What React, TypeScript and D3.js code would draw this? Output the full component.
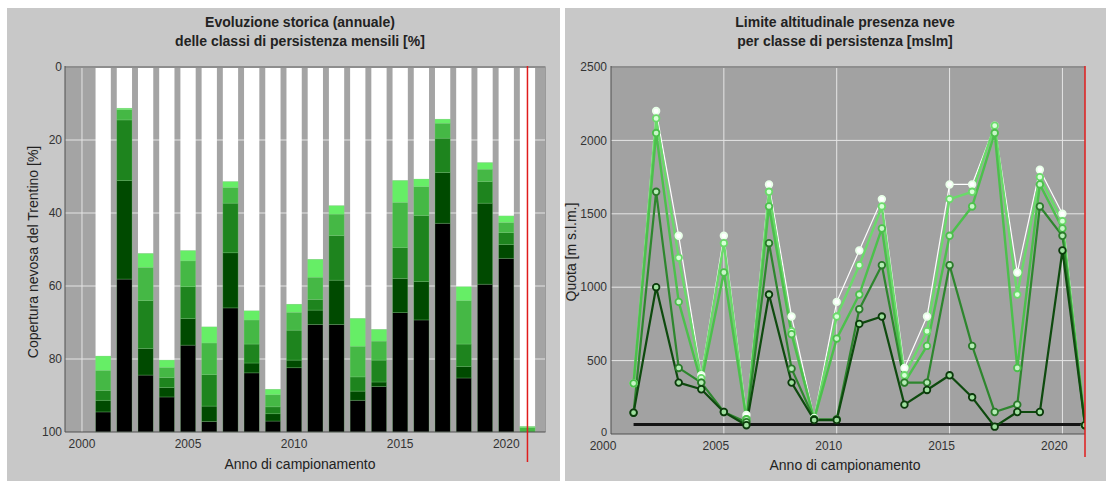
import React from 'react';
import * as d3 from 'd3';

// anni di campionamento
const anni = [2001, 2002, 2003, 2004, 2005, 2006, 2007, 2008, 2009, 2010, 2011,
  2012, 2013, 2014, 2015, 2016, 2017, 2018, 2019, 2020, 2021];

// copertura per classe di persistenza [%] (dal basso verso l'alto)
const classeNero = [5.5, 41.9, 15.6, 9.6, 23.8, 2.9, 34.0, 16.2, 3.0, 17.6, 29.5, 29.5, 8.7, 12.5, 32.7, 30.7, 57.2, 14.8, 40.5, 47.6, 0];
const classeScuro = [3.2, 27.0, 7.3, 2.6, 7.3, 4.2, 15.1, 2.7, 2.0, 2.1, 3.9, 12.1, 2.5, 1.2, 9.4, 10.5, 13.9, 3.2, 22.2, 3.8, 0];
const classeMedio = [2.7, 16.6, 13.1, 2.7, 8.7, 8.6, 13.6, 5.2, 1.9, 8.2, 2.9, 12.2, 3.9, 6.0, 8.4, 18.1, 9.4, 6.1, 5.9, 3.2, 0];
const classeChiaro = [5.5, 2.8, 9.1, 2.8, 7.1, 8.7, 4.3, 6.6, 3.3, 4.9, 6.1, 5.9, 8.4, 5.2, 12.4, 7.9, 4.1, 11.9, 3.4, 2.8, 1.2];
const classeTenue = [3.9, 0.4, 3.8, 2.0, 2.8, 4.4, 1.6, 2.5, 1.5, 2.2, 4.9, 2.3, 7.6, 3.2, 6.0, 2.1, 1.1, 3.8, 1.8, 1.8, 0.3];

// limite altitudinale per classe [m s.l.m.]
const quotaScuro = [145, 1000, 350, 305, 150, 60, 950, 350, 95, 95, 750, 800, 200, 300, 400, 250, 50, 150, 150, 1250, 60];
const quotaMedio = [145, 1650, 450, 350, 150, 80, 1300, 445, 100, 100, 850, 1150, 350, 350, 1150, 600, 150, 200, 1550, 1350, 60];
const quotaChiaro = [345, 2050, 900, 350, 1100, 100, 1550, 680, 100, 650, 950, 1400, 350, 600, 1350, 1550, 2050, 450, 1700, 1400, 60];
const quotaTenue = [345, 2150, 1200, 380, 1300, 100, 1650, 700, 100, 800, 1150, 1550, 400, 700, 1600, 1650, 2100, 950, 1750, 1450, 60];
const quotaBianco = [345, 2200, 1350, 400, 1350, 130, 1700, 800, 110, 900, 1250, 1600, 450, 800, 1700, 1700, 2100, 1100, 1800, 1500, 60];
const quotaMinimaAnni = [2001, 2021];
const quotaMinima = [65, 65];

const tickPercento = [0, 20, 40, 60, 80, 100];
const tickQuota = [0, 500, 1000, 1500, 2000, 2500];
const tickAnni = [2000, 2005, 2010, 2015, 2020];

const coloriClassi = ['#000000', '#004a00', '#1e841e', '#45b845', '#66ee66'];
const chiaviClassi = ['nero', 'scuro', 'medio', 'chiaro', 'tenue'];

const FONT = 'Arial, "Liberation Sans", sans-serif';

function GraficoBarre() {
  const x = d3.scaleLinear().domain([1999.2, 2021.85]).range([65, 545.5]);
  const y = d3.scaleLinear().domain([0, 100]).range([67, 432]);
  const bw = (x(2001) - x(2000)) * 0.72;

  const righe = anni.map((a, i) => ({
    anno: a,
    nero: classeNero[i], scuro: classeScuro[i], medio: classeMedio[i],
    chiaro: classeChiaro[i], tenue: classeTenue[i],
  }));
  const serie = d3.stack<any>().keys(chiaviClassi)(righe);

  return (
    <g>
      <rect x={65} y={67} width={480.5} height={365} fill="#a4a4a4" />
      {tickPercento.slice(1, -1).map(t => (
        <line key={t} x1={65} x2={545.5} y1={y(t)} y2={y(t)} stroke="#e4e4e4" strokeWidth={1} />
      ))}
      <line x1={x(2000)} x2={x(2000)} y1={67} y2={432} stroke="#e4e4e4" />
      {/* parte non coperta */}
      {righe.map((r, i) => {
        const top = serie[serie.length - 1][i][1];
        return <rect key={r.anno} x={x(r.anno) - bw / 2} y={y(0)} width={bw}
          height={y(100 - top) - y(0)} fill="#ffffff" />;
      })}
      {serie.map((s, k) => (
        <g key={s.key}>
          {s.map((d, i) => (
            <rect key={i} x={x(anni[i]) - bw / 2} y={y(100 - d[1])} width={bw}
              height={Math.max(0, y(100 - d[0]) - y(100 - d[1]))}
              fill={coloriClassi[k]} stroke="rgba(140,220,140,0.45)" strokeWidth={0.6} />
          ))}
        </g>
      ))}
      <line x1={65} x2={545.5} y1={67} y2={67} stroke="#8e8e8e" strokeWidth={2} />
      <line x1={545.5} x2={545.5} y1={67} y2={432} stroke="#9a9a9a" strokeWidth={1} />
      <line x1={65} x2={65} y1={66} y2={432} stroke="#505050" />
      <line x1={65} x2={545.5} y1={432} y2={432} stroke="#505050" />
      <line x1={x(2021)} x2={x(2021)} y1={66} y2={462} stroke="#e01c1c" strokeWidth={1.5} />
      {tickPercento.map(t => (
        <text key={t} x={62} y={y(t)} dy="0.35em" textAnchor="end" fontSize={12} fill="#333" fontFamily={FONT}>{t}</text>
      ))}
      {tickAnni.map(t => (
        <text key={t} x={x(t)} y={448} textAnchor="middle" fontSize={12} fill="#333" fontFamily={FONT}>{t}</text>
      ))}
      <text x={300} y={27} textAnchor="middle" fontSize={14} fontWeight="bold" fill="#222" fontFamily={FONT}>Evoluzione storica (annuale)</text>
      <text x={300} y={46} textAnchor="middle" fontSize={14} fontWeight="bold" fill="#222" fontFamily={FONT}>delle classi di persistenza mensili [%]</text>
      <text x={300} y={469} textAnchor="middle" fontSize={14} fill="#222" fontFamily={FONT}>Anno di campionamento</text>
      <text transform="translate(38,252) rotate(-90)" textAnchor="middle" fontSize={14} fill="#222" fontFamily={FONT}>Copertura nevosa del Trentino [%]</text>
    </g>
  );
}

function GraficoQuote() {
  const x = d3.scaleLinear().domain([2000, 2021]).range([611, 1085]);
  const y = d3.scaleLinear().domain([0, 2500]).range([434, 67]);
  const linea = d3.line<number>().x((_, i) => x(anni[i])).y(d => y(d));

  const serie = [
    { dati: quotaBianco, col: '#ffffff', fill: '#ffffff', w: 1.2, mk: '#e8ffe8' },
    { dati: quotaTenue, col: '#6ada6a', fill: '#d8ffd8', w: 2.4, mk: '#6ada6a' },
    { dati: quotaChiaro, col: '#4cc04c', fill: '#c8f5c8', w: 2.4, mk: '#4cc04c' },
    { dati: quotaMedio, col: '#2e862e', fill: '#b5ecb5', w: 2.2, mk: '#2a7a2a' },
    { dati: quotaScuro, col: '#0e4a0e', fill: '#9ee09e', w: 2.2, mk: '#0b3a0b' },
  ];

  return (
    <g>
      <defs>
        <clipPath id="clipQuote">
          <rect x={611} y={60} width={474} height={380} />
        </clipPath>
      </defs>
      <rect x={611} y={67} width={474} height={367} fill="#a2a2a2" />
      {tickQuota.slice(1, -1).map(t => (
        <line key={t} x1={611} x2={1085} y1={y(t)} y2={y(t)} stroke="#e6e6e6" />
      ))}
      {tickAnni.slice(1).map(t => (
        <line key={t} x1={x(t)} x2={x(t)} y1={67} y2={434} stroke="#e6e6e6" />
      ))}
      <g clipPath="url(#clipQuote)">
        <path d={d3.line<number>().x((_, i) => x(quotaMinimaAnni[i])).y(d => y(d))(quotaMinima) || ''}
          stroke="#141414" strokeWidth={3} fill="none" />
        {serie.map((s, k) => (
          <path key={k} d={linea(s.dati) || ''} stroke={s.col} strokeWidth={s.w} fill="none" strokeLinejoin="round" />
        ))}
        {serie.map((s, k) => (
          <g key={k}>
            {s.dati.map((d, i) => (
              <circle key={i} cx={x(anni[i])} cy={y(d)} r={3.3} fill={s.fill} stroke={s.mk} strokeWidth={1.8} />
            ))}
          </g>
        ))}
      </g>
      <line x1={611} x2={1085} y1={67} y2={67} stroke="#8e8e8e" strokeWidth={2} />
      <line x1={611} x2={611} y1={66} y2={434} stroke="#505050" />
      <line x1={611} x2={1085} y1={434} y2={434} stroke="#505050" />
      <line x1={1085} x2={1085} y1={66} y2={457} stroke="#e01c1c" strokeWidth={1.5} />
      {tickQuota.map(t => (
        <text key={t} x={607} y={t === 0 ? y(t) - 2 : y(t)} dy="0.35em" textAnchor="end" fontSize={t === 0 ? 11 : 12} fill="#333" fontFamily={FONT}>{t}</text>
      ))}
      {tickAnni.map(t => (
        <text key={t} x={x(t) - 8} y={450} textAnchor="middle" fontSize={12} fill="#333" fontFamily={FONT}>{t}</text>
      ))}
      <text x={845} y={27} textAnchor="middle" fontSize={14} fontWeight="bold" fill="#222" fontFamily={FONT}>Limite altitudinale presenza neve</text>
      <text x={845} y={46} textAnchor="middle" fontSize={14} fontWeight="bold" fill="#222" fontFamily={FONT}>per classe di persistenza [mslm]</text>
      <text x={845} y={470} textAnchor="middle" fontSize={14} fill="#222" fontFamily={FONT}>Anno di campionamento</text>
      <text transform="translate(576,252) rotate(-90)" textAnchor="middle" fontSize={14} fill="#222" fontFamily={FONT}>Quota [m s.l.m.]</text>
    </g>
  );
}

export default function App() {
  return (
    <svg width={1112} height={481} style={{ position: 'absolute', left: 0, top: 0, background: '#fff' }}>
      <rect x={7} y={8} width={553} height={473} fill="#c8c8c8" />
      <rect x={565} y={8} width={541} height={473} fill="#c8c8c8" />
      <GraficoBarre />
      <GraficoQuote />
    </svg>
  );
}
